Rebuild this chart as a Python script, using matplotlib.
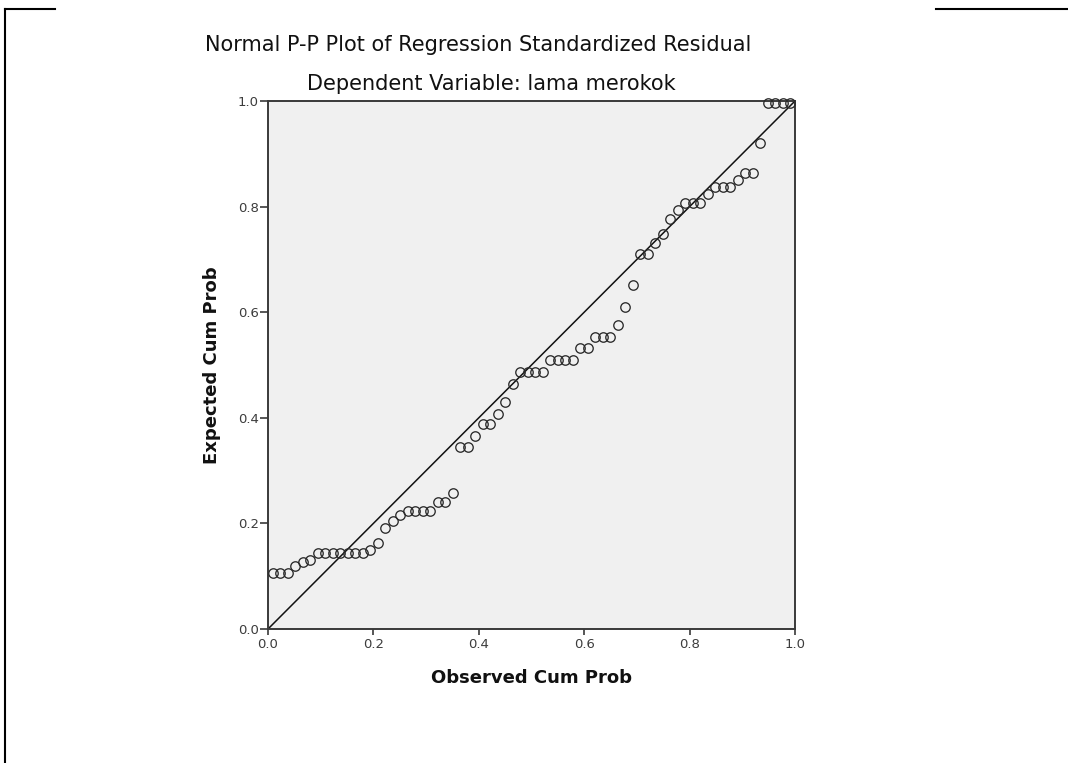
import matplotlib
matplotlib.use("Agg")
import matplotlib.pyplot as plt
from matplotlib.lines import Line2D

plt.rcParams['font.family'] = ['DejaVu Sans']

title = "Normal P-P Plot of Regression Standardized Residual"
subtitle = "Dependent Variable: lama merokok"
x_label = "Observed Cum Prob"
y_label = "Expected Cum Prob"
ticks = [0.0, 0.2, 0.4, 0.6, 0.8, 1.0]
tick_labels = ["0.0", "0.2", "0.4", "0.6", "0.8", "1.0"]

observed = [0.0089, 0.0231, 0.0374, 0.0516, 0.0658, 0.0801, 0.0943, 0.1085, 0.1228, 0.1370,
            0.1512, 0.1655, 0.1797, 0.1940, 0.2082, 0.2224, 0.2367, 0.2509, 0.2651, 0.2794,
            0.2936, 0.3078, 0.3221, 0.3363, 0.3505, 0.3648, 0.3790, 0.3932, 0.4075, 0.4217,
            0.4359, 0.4502, 0.4644, 0.4786, 0.4929, 0.5071, 0.5214, 0.5356, 0.5498, 0.5641,
            0.5783, 0.5925, 0.6068, 0.6210, 0.6352, 0.6495, 0.6637, 0.6779, 0.6922, 0.7064,
            0.7206, 0.7349, 0.7491, 0.7633, 0.7776, 0.7918, 0.8060, 0.8203, 0.8345, 0.8488,
            0.8630, 0.8772, 0.8915, 0.9057, 0.9199, 0.9342, 0.9484, 0.9626, 0.9769, 0.9911]

expected = [0.107, 0.107, 0.107, 0.120, 0.126, 0.131, 0.143, 0.143, 0.143, 0.143,
            0.143, 0.143, 0.143, 0.150, 0.163, 0.191, 0.205, 0.215, 0.223, 0.223,
            0.223, 0.223, 0.240, 0.240, 0.258, 0.345, 0.345, 0.366, 0.388, 0.388,
            0.408, 0.430, 0.464, 0.487, 0.487, 0.487, 0.487, 0.509, 0.509, 0.509,
            0.509, 0.532, 0.532, 0.553, 0.553, 0.553, 0.576, 0.609, 0.651, 0.711,
            0.711, 0.732, 0.749, 0.776, 0.794, 0.807, 0.807, 0.807, 0.824, 0.838,
            0.838, 0.838, 0.850, 0.864, 0.864, 0.921, 0.997, 0.997, 0.997, 0.997]

W, H = 1068, 763
fig = plt.figure(figsize=(W / 100, H / 100), dpi=100)
fig.patch.set_facecolor("white")

# axes placement (pixels): x 268..795, y 101..629
ax = fig.add_axes([268 / W, 1 - 629 / H, (795 - 268) / W, (629 - 101) / H])
ax.set_facecolor("#f0f0f0")
ax.set_xlim(0, 1)
ax.set_ylim(0, 1)

ax.plot([0, 1], [0, 1], color="#111111", lw=1.1, zorder=2)
ax.plot(observed, expected, linestyle="none", marker="o", markersize=6.8,
        markerfacecolor="none", markeredgecolor="#2a2a2a", markeredgewidth=0.95,
        zorder=3, clip_on=False)

for s in ax.spines.values():
    s.set_color("#3a3a3a")
    s.set_linewidth(1.4)

ax.set_xticks(ticks)
ax.set_xticklabels(tick_labels)
ax.set_yticks(ticks)
ax.set_yticklabels(tick_labels)
ax.tick_params(axis="both", direction="out", width=1.2, color="#3a3a3a",
               labelsize=9.5, labelcolor="#3c3c3c")
ax.tick_params(axis="x", length=4.5, pad=2)
ax.tick_params(axis="y", length=6, pad=0.5)

ax.set_xlabel(x_label, fontsize=13, fontweight="bold", color="#111111", labelpad=13)
ax.set_ylabel(y_label, fontsize=13, fontweight="bold", color="#111111", labelpad=12)

fig.text(478 / W, 1 - 45 / H, title, ha="center", va="center", fontsize=15,
         color="#111111")
fig.text(491 / W, 1 - 84 / H, subtitle, ha="center", va="center", fontsize=15,
         color="#111111")

# frame remnants of the output viewer
fig.add_artist(Line2D([5 / W, 5 / W], [0, 1 - 9 / H], transform=fig.transFigure,
                      color="black", lw=1.5))
fig.add_artist(Line2D([5 / W, 55 / W], [1 - 9 / H, 1 - 9 / H], transform=fig.transFigure,
                      color="black", lw=1.5))
fig.add_artist(Line2D([936 / W, 1], [1 - 9 / H, 1 - 9 / H], transform=fig.transFigure,
                      color="black", lw=1.5))

fig.savefig("out.png", dpi=100)
